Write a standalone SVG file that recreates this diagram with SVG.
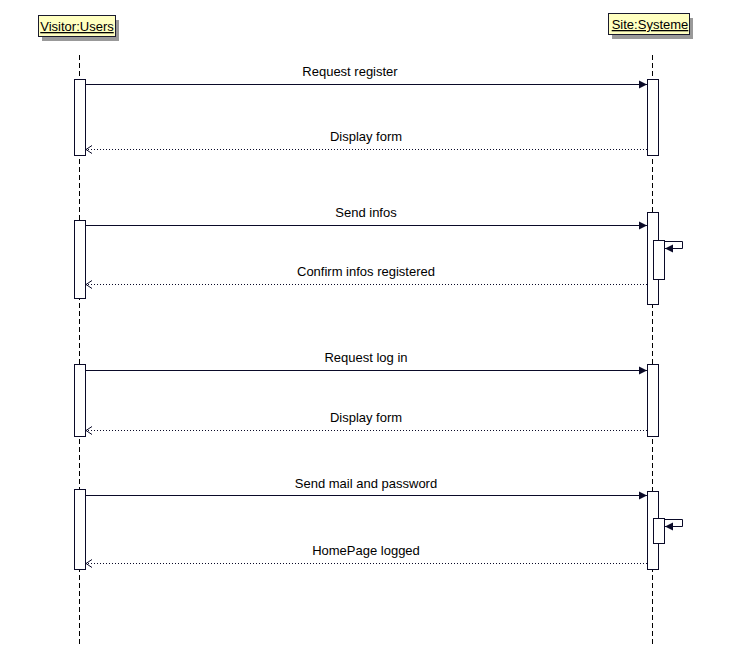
<svg xmlns="http://www.w3.org/2000/svg" width="738" height="648" viewBox="0 0 738 648">
<style>
.actor{fill:#ffffc0;stroke:#1a1a2e;stroke-width:1}
.shadow{fill:#999;}
.life{stroke:#000;stroke-width:1;stroke-dasharray:5,3;fill:none}
.act{fill:#fff;stroke:#0a0a28;stroke-width:1}
.msg{stroke:#0a0a28;stroke-width:1;fill:none}
.ret{stroke:#0a0a28;stroke-width:1;fill:none;stroke-dasharray:1,2}
text{font-family:"Liberation Sans",Arial,sans-serif;font-size:13px;fill:#000}
.an{font-size:13px;text-decoration:underline}
</style>
<defs>
<marker id="fill" markerWidth="9" markerHeight="10" refX="8" refY="5" orient="auto" markerUnits="userSpaceOnUse">
<path d="M0,1 L8,5 L0,9 Z" fill="#0a0a28"/>
</marker>
<marker id="open" markerWidth="8" markerHeight="10" refX="7" refY="5" orient="auto" markerUnits="userSpaceOnUse">
<path d="M1,1 L7,5 L1,9" fill="none" stroke="#0a0a28" stroke-width="1"/>
</marker>
</defs>
<rect width="738" height="648" fill="#fff"/>
<g id="visitor">
<rect class="shadow" x="42" y="20" width="77" height="21"/>
<rect class="actor" x="38.5" y="15.5" width="77" height="21"/>
<text class="an" x="77" y="31" text-anchor="middle">Visitor:Users</text>
<line class="life" x1="79.5" y1="55" x2="79.5" y2="646"/>
<rect class="act" x="74.5" y="79.5" width="11" height="76"/>
<rect class="act" x="74.5" y="220.5" width="11" height="78"/>
<rect class="act" x="74.5" y="364.5" width="11" height="72"/>
<rect class="act" x="74.5" y="489.5" width="11" height="80"/>
</g>
<g id="site">
<rect class="shadow" x="612" y="18" width="81" height="21"/>
<rect class="actor" x="608.5" y="13.5" width="81" height="21"/>
<text class="an" x="650" y="29" text-anchor="middle">Site:Systeme</text>
<line class="life" x1="652.5" y1="55" x2="652.5" y2="646"/>
<rect class="act" x="647.5" y="79.5" width="11" height="76"/>
<rect class="act" x="647.5" y="212.5" width="11" height="92"/>
<rect class="act" x="653.5" y="240.5" width="11" height="39"/>
<rect class="act" x="647.5" y="364.5" width="11" height="72"/>
<rect class="act" x="647.5" y="491.5" width="11" height="78"/>
<rect class="act" x="653.5" y="518.5" width="11" height="25"/>
</g>
<g id="connectors">
<line class="msg" x1="86" y1="84.5" x2="647" y2="84.5" marker-end="url(#fill)"/>
<text x="350" y="76" text-anchor="middle">Request register</text>
<line class="ret" x1="647" y1="149.5" x2="86" y2="149.5" marker-end="url(#open)"/>
<text x="366" y="141" text-anchor="middle">Display form</text>
<line class="msg" x1="86" y1="225.5" x2="647" y2="225.5" marker-end="url(#fill)"/>
<text x="366" y="217" text-anchor="middle">Send infos</text>
<path class="msg" d="M665,241.5 H682.5 V248.5 H665" marker-end="url(#fill)"/>
<line class="ret" x1="647" y1="284.5" x2="86" y2="284.5" marker-end="url(#open)"/>
<text x="366" y="276" text-anchor="middle">Confirm infos registered</text>
<line class="msg" x1="86" y1="370.5" x2="647" y2="370.5" marker-end="url(#fill)"/>
<text x="366" y="362" text-anchor="middle">Request log in</text>
<line class="ret" x1="647" y1="430.5" x2="86" y2="430.5" marker-end="url(#open)"/>
<text x="366" y="422" text-anchor="middle">Display form</text>
<line class="msg" x1="86" y1="495.5" x2="647" y2="495.5" marker-end="url(#fill)"/>
<text x="366" y="488" text-anchor="middle">Send mail and password</text>
<path class="msg" d="M665,519.5 H682.5 V526.5 H665" marker-end="url(#fill)"/>
<line class="ret" x1="647" y1="563.5" x2="86" y2="563.5" marker-end="url(#open)"/>
<text x="366" y="555" text-anchor="middle">HomePage logged</text>
</g>
</svg>
